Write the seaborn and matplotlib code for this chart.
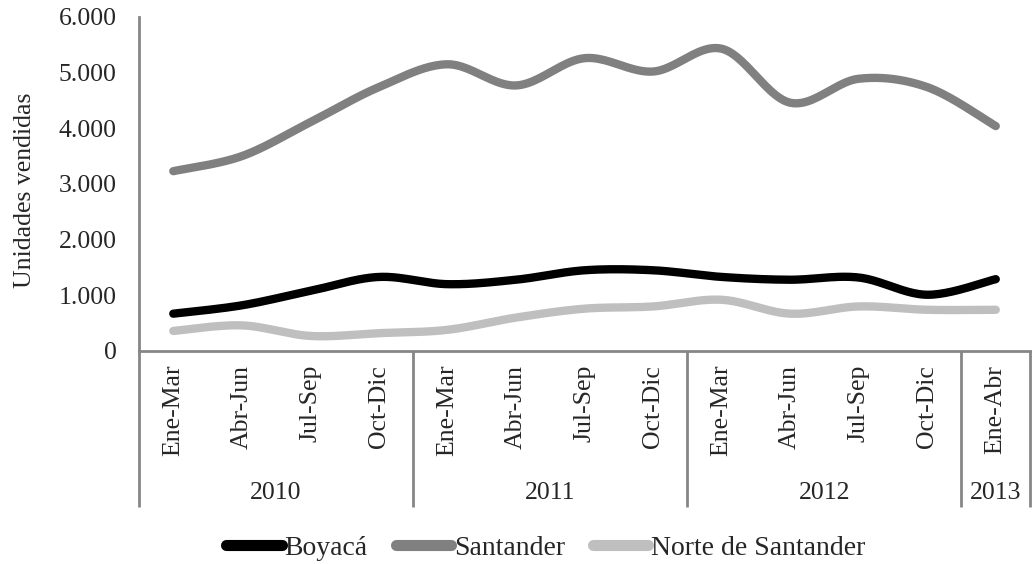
import numpy as np
import pandas as pd
import matplotlib
matplotlib.use("Agg")
import matplotlib.pyplot as plt
from matplotlib.lines import Line2D
import seaborn as sns

# Data
periods = ["Ene-Mar", "Abr-Jun", "Jul-Sep", "Oct-Dic",
           "Ene-Mar", "Abr-Jun", "Jul-Sep", "Oct-Dic",
           "Ene-Mar", "Abr-Jun", "Jul-Sep", "Oct-Dic",
           "Ene-Abr"]
years = ["2010", "2011", "2012", "2013"]
year_sizes = [4, 4, 4, 1]

boyaca = [670, 820, 1080, 1330, 1200, 1280, 1450, 1450, 1330, 1280, 1320, 1010, 1290]
santander = [3230, 3500, 4110, 4740, 5150, 4770, 5260, 5020, 5430, 4460, 4890, 4740, 4040]
norte = [360, 460, 270, 320, 380, 600, 760, 800, 920, 670, 800, 740, 740]

series_names = ["Boyacá", "Santander", "Norte de Santander"]
series_vals = [boyaca, santander, norte]
colors = ["#000000", "#808080", "#BFBFBF"]
axis_gray = "#868686"


def smooth(xs, ys, n=24):
    # Excel-style smoothed line (Catmull-Rom / bezier with 1/6 control points)
    x = np.asarray(xs, float)
    y = np.asarray(ys, float)
    px = np.concatenate([[x[0]], x, [x[-1]]])
    py = np.concatenate([[y[0]], y, [y[-1]]])
    t = np.linspace(0, 1, n, endpoint=False)
    outx, outy = [], []
    for i in range(1, len(px) - 2):
        p0, p1, p2, p3 = (np.array([px[j], py[j]]) for j in (i - 1, i, i + 1, i + 2))
        c1 = p1 + (p2 - p0) / 6
        c2 = p2 - (p3 - p1) / 6
        b = ((1 - t) ** 3)[:, None] * p1 + (3 * (1 - t) ** 2 * t)[:, None] * c1 \
            + (3 * (1 - t) * t ** 2)[:, None] * c2 + (t ** 3)[:, None] * p2
        outx.extend(b[:, 0])
        outy.extend(b[:, 1])
    outx.append(x[-1])
    outy.append(y[-1])
    return outx, outy


rows = []
pos = np.arange(len(periods))
for name, vals in zip(series_names, series_vals):
    sx, sy = smooth(pos, vals)
    for a, b in zip(sx, sy):
        rows.append({"x": a, "y": b, "serie": name})
df = pd.DataFrame(rows)

sns.set_style("white")
plt.rcParams["font.family"] = ["Liberation Serif", "DejaVu Serif"]
fs = 18.5

fig = plt.figure(figsize=(10.32, 5.64), dpi=100)
ax = fig.add_axes([0.1347, 0.3777, 0.8634, 0.5922])

sns.lineplot(data=df, x="x", y="y", hue="serie", palette=dict(zip(series_names, colors)),
             estimator=None, sort=False, linewidth=6, legend=False, ax=ax,
             solid_capstyle="round")

ax.set_xlim(-0.5, len(periods) - 0.5)
ax.set_ylim(0, 6000)
yt = np.arange(0, 6001, 1000)
ax.set_yticks(yt)
ax.set_yticklabels([f"{v:,}".replace(",", ".") for v in yt], fontsize=fs)
ax.set_xticks(pos)
ax.set_xticklabels(periods, rotation=90, fontsize=fs, va="top")
ax.tick_params(axis="both", length=0)
ax.tick_params(axis="y", pad=16)
ax.tick_params(axis="x", pad=10)
ax.set_xlabel("")
ax.set_ylabel("Unidades vendidas", fontsize=fs)
ax.yaxis.label.set_va("center")
ax.yaxis.set_label_coords(-0.128, 0.48)

for s in ["top", "right"]:
    ax.spines[s].set_visible(False)
for s in ["left", "bottom"]:
    ax.spines[s].set_color(axis_gray)
    ax.spines[s].set_linewidth(2)
ax.spines["bottom"].set_bounds(-0.5, len(periods))

# year group separators and labels under the period labels
trans = ax.get_xaxis_transform()
edges = np.concatenate([[0], np.cumsum(year_sizes)]) - 0.5
for e in edges:
    ax.plot([e, e], [0, -0.467], transform=trans, color=axis_gray, lw=2,
            clip_on=False, solid_capstyle="butt")
for yr, a, b in zip(years, edges[:-1], edges[1:]):
    ax.text((a + b) / 2, -0.425, yr, transform=trans, ha="center", va="center",
            fontsize=fs)

handles = [Line2D([0], [0], color=c, lw=8, solid_capstyle="round") for c in colors]
fig.legend(handles, series_names, loc="center", bbox_to_anchor=(0.529, 0.028),
           ncol=3, frameon=False, fontsize=20, handlelength=2.0, handletextpad=0.1,
           columnspacing=1.0)

fig.savefig("out.png", dpi=100)
